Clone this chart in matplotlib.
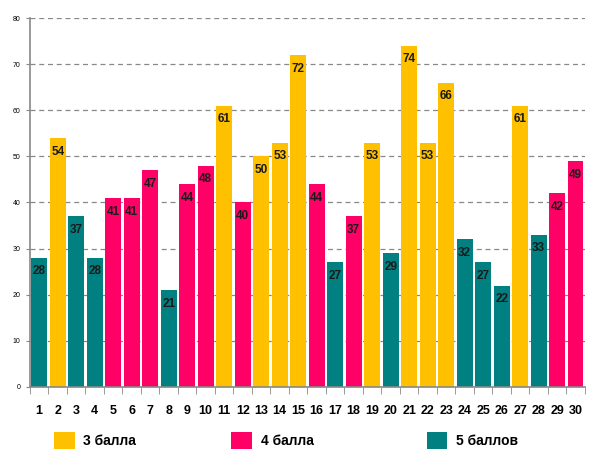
import matplotlib.pyplot as plt
from matplotlib.patches import Patch

CATEGORIES = [str(i) for i in range(1, 31)]
VALUES = [28, 54, 37, 28, 41, 41, 47, 21, 44, 48,
          61, 40, 50, 53, 72, 44, 27, 37, 53, 29,
          74, 53, 66, 32, 27, 22, 61, 33, 42, 49]
# score group of each bar: 3, 4 or 5
GROUPS = [5, 3, 5, 5, 4, 4, 4, 5, 4, 4,
          3, 4, 3, 3, 3, 4, 5, 4, 3, 5,
          3, 3, 3, 5, 5, 5, 3, 5, 4, 4]
GROUP_LABELS = {3: "3 балла", 4: "4 балла", 5: "5 баллов"}
COLORS = {3: "#FFC000", 4: "#FF0066", 5: "#008080"}
Y_TICKS = list(range(0, 81, 10))


def main() -> None:
    plt.rcParams["font.family"] = ["Liberation Sans", "DejaVu Sans"]
    fig = plt.figure(figsize=(5.95, 4.70), dpi=100)
    ax = fig.add_axes([0.0504, 0.1766, 0.9326, 0.7851])

    # dashed horizontal gridlines, kept behind the bars
    for y in Y_TICKS[1:]:
        ax.axhline(y, linestyle=(0, (4, 3)), color="#888888", linewidth=0.9, zorder=1)

    xs = list(range(len(VALUES)))
    colors = [COLORS[g] for g in GROUPS]
    bars = ax.bar(xs, VALUES, width=0.85, color=colors, zorder=3)

    for rect, v in zip(bars, VALUES):
        ax.annotate(str(v), (rect.get_x() + rect.get_width() / 2, v),
                    xytext=(0, -5.5), textcoords="offset points",
                    ha="center", va="top", fontsize=8.5,
                    fontweight="bold", color="#1a1a1a", zorder=4)

    ax.set_xlim(-0.5, len(VALUES) - 0.5)
    ax.set_ylim(0, 80)
    ax.set_yticks(Y_TICKS)
    ax.tick_params(axis="y", labelsize=5, length=3, color="#888888", pad=4)

    # category labels centred, tick marks on boundaries
    ax.set_xticks(xs)
    ax.set_xticklabels(CATEGORIES, fontsize=9, fontweight="bold")
    ax.set_xticks([x - 0.5 for x in range(len(VALUES) + 1)], minor=True)
    ax.tick_params(axis="x", which="major", length=0, pad=13)
    ax.tick_params(axis="x", which="minor", length=5, color="#888888")

    for side in ["top", "right"]:
        ax.spines[side].set_visible(False)
    for side in ["left", "bottom"]:
        ax.spines[side].set_color("#888888")
        ax.spines[side].set_linewidth(1.2)
        ax.spines[side].set_zorder(5)

    handles = [Patch(facecolor=COLORS[g], edgecolor="none") for g in (3, 4, 5)]
    label_x = [0.085, 0.383, 0.711]
    for h, g, lx in zip(handles, (3, 4, 5), label_x):
        fig.legend([h], [GROUP_LABELS[g]], loc="center left",
                   bbox_to_anchor=(lx - 0.015, 0.063), frameon=False,
                   handlelength=1.5, handleheight=1.5, handletextpad=0.6,
                   prop={"size": 10, "weight": "bold"})

    fig.savefig("out.png", dpi=100)
    plt.close(fig)


if __name__ == "__main__":
    main()
